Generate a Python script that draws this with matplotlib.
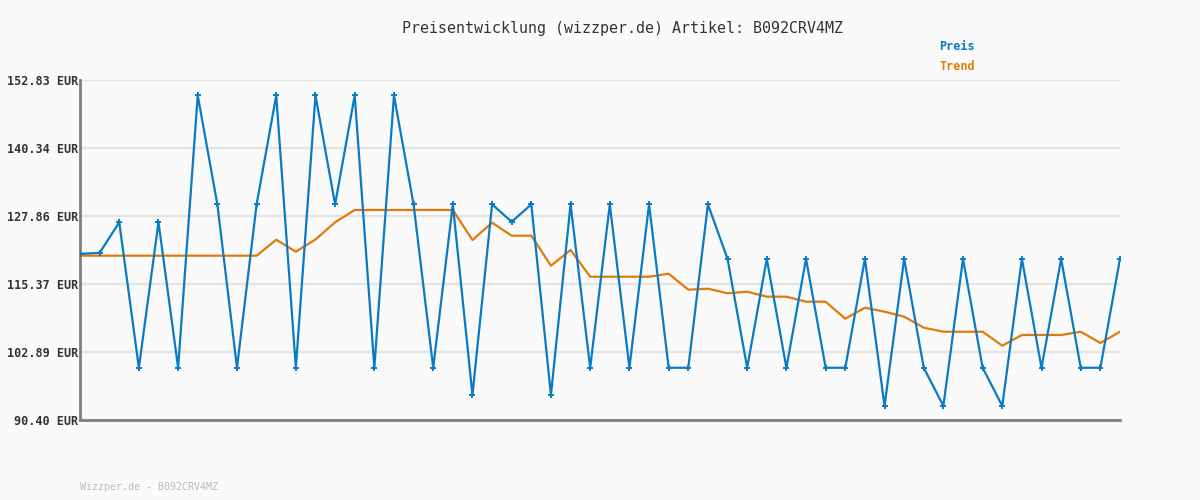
import matplotlib
matplotlib.use("Agg")
import matplotlib.pyplot as plt

title = "Preisentwicklung (wizzper.de) Artikel: B092CRV4MZ"
footer = "Wizzper.de - B092CRV4MZ"
ytick_values = [90.40, 102.89, 115.37, 127.86, 140.34, 152.83]
ytick_labels = ["90.40 EUR", "102.89 EUR", "115.37 EUR", "127.86 EUR", "140.34 EUR", "152.83 EUR"]

preis = [120.9, 121.1, 126.7, 99.99, 126.7, 99.99, 149.99, 129.99, 99.99, 129.99,
         149.99, 99.99, 149.99, 129.99, 149.99, 99.99, 149.99, 129.99, 99.99, 129.99,
         94.99, 129.99, 126.8, 129.99, 94.99, 129.99, 99.99, 129.99, 99.99, 129.99,
         99.99, 99.99, 129.99, 119.99, 99.99, 119.99, 99.99, 119.99, 99.99, 99.99,
         119.99, 92.99, 119.99, 99.99, 92.99, 119.99, 99.99, 92.99, 119.99, 99.99,
         119.99, 99.99, 99.99, 119.99]

trend = [120.57, 120.57, 120.57, 120.57, 120.57, 120.57, 120.57, 120.57, 120.57, 120.57,
         123.5, 121.3, 123.55, 126.7, 128.96, 128.96, 128.96, 128.96, 128.96, 128.96,
         123.45, 126.63, 124.24, 124.24, 118.73, 121.62, 116.71, 116.71, 116.71, 116.71,
         117.26, 114.33, 114.51, 113.67, 113.96, 113.04, 113.04, 112.12, 112.12, 109.00,
         111.02, 110.29, 109.37, 107.35, 106.61, 106.61, 106.61, 104.04, 106.01, 106.01,
         106.01, 106.61, 104.54, 106.61]

blue = "#0a7ac6"
orange = "#e07b0a"
bg = "#fafafa"

fig = plt.figure(figsize=(12, 5), dpi=100, facecolor=bg)
ax = fig.add_axes([80/1200, 80/500, 1040/1200, 340/500], facecolor=bg)

x = list(range(len(preis)))
ax.plot(x, trend, color=orange, lw=1.6, zorder=3)
ax.plot(x, preis, color=blue, lw=1.6, marker="+", markersize=4, mew=1.4, zorder=4)

ax.set_xlim(0, len(preis) - 1)
ax.set_ylim(ytick_values[0], ytick_values[-1])
ax.set_yticks(ytick_values)
ax.set_yticklabels(ytick_labels, family="DejaVu Sans Mono", fontsize=8.5,
                   fontweight="bold", color="#333333")
ax.set_xticks([])
ax.tick_params(axis="y", length=0, pad=1)
ax.grid(axis="y", color="#e4e4e4", lw=1.6, zorder=0)
for s in ["top", "right"]:
    ax.spines[s].set_visible(False)
for s in ["left", "bottom"]:
    ax.spines[s].set_color("#808080")
    ax.spines[s].set_linewidth(2)

fig.text(623/1200, 1 - 28/500, title, ha="center", va="center",
         family="DejaVu Sans Mono", fontsize=10.8, color="#333333")
fig.text(939/1200, 1 - 47/500, "Preis", ha="left", va="center",
         family="DejaVu Sans Mono", fontsize=8.5, fontweight="bold", color=blue)
fig.text(939/1200, 1 - 67/500, "Trend", ha="left", va="center",
         family="DejaVu Sans Mono", fontsize=8.5, fontweight="bold", color=orange)
fig.text(80/1200, 1 - 487/500, footer, ha="left", va="center",
         family="DejaVu Sans Mono", fontsize=7.2, color="#bbbbbb")

fig.savefig("out.png", dpi=100, facecolor=bg)
